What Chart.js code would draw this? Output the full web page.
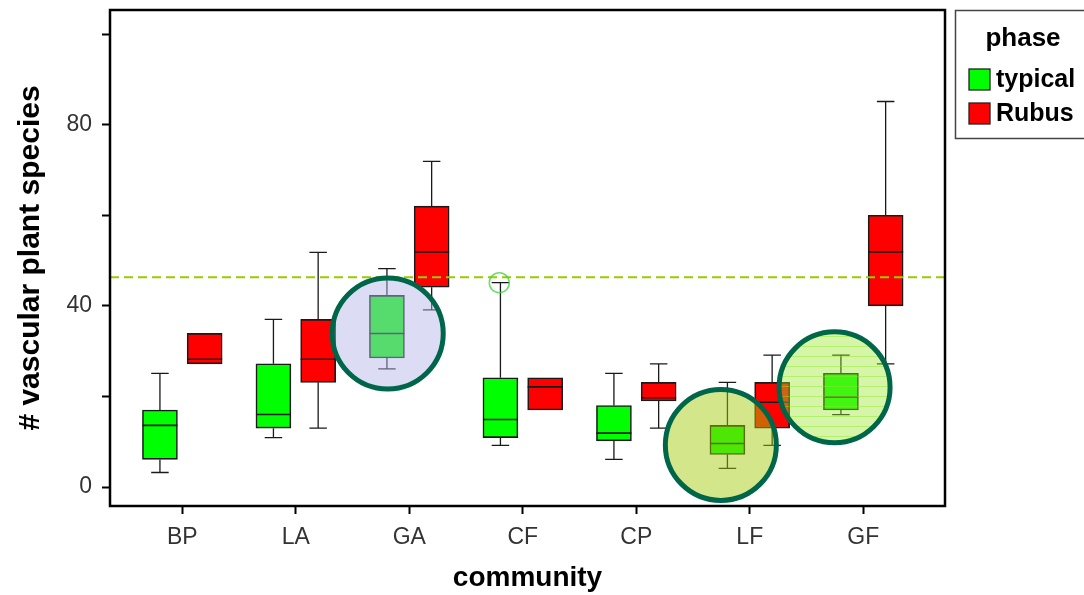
<!DOCTYPE html>
<html>
<head>
<meta charset="utf-8">
<script src="https://cdn.jsdelivr.net/npm/chart.js@4.4.1/dist/chart.umd.min.js"></script>
<style>
html,body{margin:0;padding:0;background:#fff;overflow:hidden}
canvas{display:block}
</style>
</head>
<body>
<canvas id="c" width="1084" height="595"></canvas>
<script>
// ---------- data ----------
const categories = ['BP', 'LA', 'GA', 'CF', 'CP', 'LF', 'GF'];
const phases = ['typical', 'Rubus'];

const typicalMin    = [3.2, 10.9, 26.1, 9.2, 6.1, 4.1, 16.0];
const typicalQ1     = [6.1, 13.0, 28.5, 10.9, 10.2, 7.2, 17.0];
const typicalMedian = [13.6, 16.0, 33.9, 14.9, 11.9, 9.6, 19.9];
const typicalQ3     = [17.0, 27.2, 42.3, 24.1, 18.0, 13.6, 25.1];
const typicalMax    = [25.1, 37.0, 48.2, 45.1, 25.1, 23.1, 29.1];

const rubusMin    = [27.2, 13.0, 39.1, 17.0, 13.0, 9.2, 27.2];
const rubusQ1     = [27.2, 23.1, 44.1, 17.0, 19.0, 13.0, 40.0];
const rubusMedian = [28.2, 28.2, 51.9, 22.1, 19.7, 18.7, 51.9];
const rubusQ3     = [33.9, 37.0, 62.0, 24.1, 23.1, 23.1, 60.0];
const rubusMax    = [33.9, 51.8, 71.9, 24.1, 27.2, 29.1, 85.1];

const yTickValues = [0, 20, 40, 60, 80, 100];
const yTickLabels = ['0', '', '40', '', '80', ''];

const referenceLine = 46.3;              // dashed horizontal line
const markedCategory = 'CF';             // small circle marker on typical phase
const markedValue = 45.1;

const highlightCategories = ['GA', 'LF', 'GF'];   // big highlight circles
const highlightValues = [33.9, 9.3, 22.0];

// ---------- styles ----------
const FONT = "'Liberation Sans', Arial, Helvetica, sans-serif";
const series = [
  {min: typicalMin, q1: typicalQ1, med: typicalMedian, q3: typicalQ3, max: typicalMax, color: '#00ff00', dx: -0.197},
  {min: rubusMin, q1: rubusQ1, med: rubusMedian, q3: rubusQ3, max: rubusMax, color: '#ff0000', dx: 0.197}
];
const highlightStyles = [
  {dx: -0.19, fill: 'rgba(181,181,232,0.47)', stripes: false},
  {dx: -0.255, fill: 'rgba(164,202,9,0.475)', stripes: false},
  {dx: -0.253, fill: 'rgba(157,230,47,0.41)', stripes: true}
];

const datasets = series.map((s, d) => ({
  label: phases[d],
  data: categories.map((c, i) => ({x: i + s.dx, y: [s.q1[i], s.q3[i]]})),
  backgroundColor: s.color,
  borderColor: '#1a1a1a',
  borderWidth: 1.6,
  borderSkipped: false,
  barThickness: 35,
  grouped: false
}));

const boxPlugin = {
  id: 'boxExtras',
  beforeDatasetsDraw(chart) {
    const {ctx, scales: {y}} = chart;
    ctx.save();
    ctx.strokeStyle = '#1a1a1a';
    ctx.lineWidth = 1.3;
    series.forEach((s, d) => {
      const meta = chart.getDatasetMeta(d);
      categories.forEach((c, i) => {
        const bar = meta.data[i];
        const xc = bar.x, half = bar.width / 4;
        const seg = (a, b) => {
          if (a === b) return;
          const ya = y.getPixelForValue(a), yb = y.getPixelForValue(b);
          ctx.beginPath();
          ctx.moveTo(xc, ya); ctx.lineTo(xc, yb);
          ctx.moveTo(xc - half, yb); ctx.lineTo(xc + half, yb);
          ctx.stroke();
        };
        seg(s.q3[i], s.max[i]);
        seg(s.q1[i], s.min[i]);
      });
    });
    ctx.restore();
  },
  afterDatasetsDraw(chart) {
    const {ctx, chartArea: ca, scales: {x, y}} = chart;
    ctx.save();
    // medians
    ctx.strokeStyle = '#1a1a1a';
    ctx.lineWidth = 1.6;
    series.forEach((s, d) => {
      const meta = chart.getDatasetMeta(d);
      categories.forEach((c, i) => {
        const bar = meta.data[i];
        const ym = y.getPixelForValue(s.med[i]);
        ctx.beginPath();
        ctx.moveTo(bar.x - bar.width / 2, ym);
        ctx.lineTo(bar.x + bar.width / 2, ym);
        ctx.stroke();
      });
    });
    // dashed reference line
    const yr = y.getPixelForValue(referenceLine);
    ctx.strokeStyle = '#99cc00';
    ctx.lineWidth = 2;
    ctx.setLineDash([9, 5]);
    ctx.beginPath();
    ctx.moveTo(ca.left, yr); ctx.lineTo(ca.right, yr);
    ctx.stroke();
    ctx.setLineDash([]);
    // small marker circle
    const ci = categories.indexOf(markedCategory);
    ctx.strokeStyle = 'rgba(60,210,60,0.75)';
    ctx.lineWidth = 1.5;
    ctx.beginPath();
    ctx.arc(x.getPixelForValue(ci + series[0].dx - 0.01), y.getPixelForValue(markedValue), 10, 0, Math.PI * 2);
    ctx.stroke();
    // highlight circles
    highlightCategories.forEach((c, k) => {
      const st = highlightStyles[k];
      const cx = x.getPixelForValue(categories.indexOf(c) + st.dx);
      const cy = y.getPixelForValue(highlightValues[k]);
      const r = 55.5;
      ctx.beginPath();
      ctx.arc(cx, cy, r, 0, Math.PI * 2);
      ctx.fillStyle = st.fill;
      ctx.fill();
      if (st.stripes) {
        ctx.save();
        ctx.beginPath();
        ctx.arc(cx, cy, r, 0, Math.PI * 2);
        ctx.clip();
        ctx.strokeStyle = 'rgba(130,235,30,0.45)';
        ctx.lineWidth = 1;
        for (let yy = cy - r + 4; yy < cy + r; yy += 10) {
          ctx.beginPath();
          ctx.moveTo(cx - r, Math.round(yy) + 0.5);
          ctx.lineTo(cx + r, Math.round(yy) + 0.5);
          ctx.stroke();
        }
        ctx.restore();
      }
      ctx.beginPath();
      ctx.arc(cx, cy, r, 0, Math.PI * 2);
      ctx.strokeStyle = '#00664a';
      ctx.lineWidth = 5;
      ctx.stroke();
    });
    ctx.restore();
  },
  afterDraw(chart) {
    const {ctx, chartArea: ca} = chart;
    ctx.save();
    // plot frame
    ctx.strokeStyle = '#000';
    ctx.lineWidth = 2.5;
    ctx.strokeRect(ca.left, ca.top, ca.right - ca.left, ca.bottom - ca.top);
    // legend
    ctx.strokeStyle = '#444';
    ctx.lineWidth = 1.5;
    ctx.strokeRect(955.5, 10.5, 160, 128);
    ctx.fillStyle = '#000';
    ctx.textBaseline = 'middle';
    ctx.textAlign = 'center';
    ctx.font = 'bold 26px ' + FONT;
    ctx.fillText('phase', 1023, 39);
    ctx.textAlign = 'left';
    ctx.font = 'bold 25px ' + FONT;
    series.forEach((s, d) => {
      const ty = 80 + d * 34;
      ctx.fillStyle = s.color;
      ctx.fillRect(969, ty - 11, 21, 21);
      ctx.strokeStyle = '#222';
      ctx.lineWidth = 1.3;
      ctx.strokeRect(969, ty - 11, 21, 21);
      ctx.fillStyle = '#000';
      ctx.fillText(phases[d], 996, ty);
    });
    ctx.restore();
  }
};

new Chart(document.getElementById('c'), {
  type: 'bar',
  data: {datasets},
  plugins: [boxPlugin],
  options: {
    responsive: false,
    animation: false,
    events: [],
    layout: {padding: {left: 0, top: 10, right: 139, bottom: 0}},
    plugins: {legend: {display: false}, tooltip: {enabled: false}},
    scales: {
      x: {
        type: 'linear',
        min: -0.637,
        max: 6.72,
        offset: false,
        afterBuildTicks: (sc) => { sc.ticks = categories.map((c, i) => ({value: i})); },
        afterFit: (sc) => { sc.height = 89; sc.paddingLeft = 0; sc.paddingRight = 0; },
        grid: {offset: false, drawOnChartArea: false, drawTicks: true, tickLength: 8, tickWidth: 2, tickColor: '#000'},
        border: {display: false},
        ticks: {
          autoSkip: false, maxRotation: 0, padding: 10,
          color: '#333', font: {family: FONT, size: 23},
          callback: (v) => categories[Math.round(v)]
        },
        title: {display: true, text: 'community', color: '#000',
          font: {family: FONT, size: 28, weight: 'bold'}, padding: {top: 0, bottom: 0}}
      },
      y: {
        type: 'linear',
        min: -4.19,
        max: 105.3,
        afterBuildTicks: (sc) => { sc.ticks = yTickValues.map(v => ({value: v})); },
        afterFit: (sc) => { sc.width = 110; sc.paddingTop = 0; sc.paddingBottom = 0; },
        grid: {drawOnChartArea: false, drawTicks: true, tickLength: 8, tickWidth: 2, tickColor: '#000'},
        border: {display: false},
        ticks: {
          padding: 10, color: '#333', font: {family: FONT, size: 23},
          callback: (v) => yTickLabels[yTickValues.indexOf(v)]
        },
        title: {display: true, text: '# vascular plant species', color: '#000',
          font: {family: FONT, size: 30, weight: 'bold'}, padding: {top: 13, bottom: 0}}
      }
    }
  }
});
</script>
</body>
</html>
